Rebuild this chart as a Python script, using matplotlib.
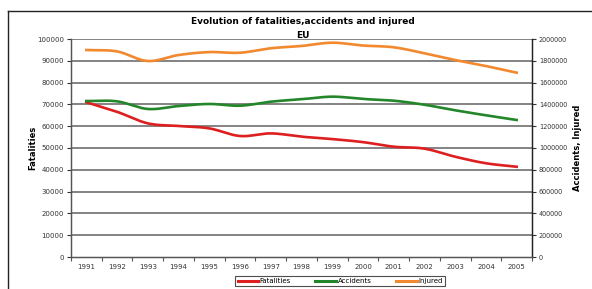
import numpy as np
import matplotlib.pyplot as plt
from matplotlib.lines import Line2D
from matplotlib.ticker import FuncFormatter

years = [str(y) for y in range(1991, 2006)]
fatalities = [71000, 66600, 61300, 60100, 59000, 55500, 56700, 55200, 54100, 52700,
              50600, 49700, 46000, 43000, 41400]
accidents = [1431000, 1428000, 1358000, 1385000, 1404000, 1388000, 1425000, 1447000,
             1471000, 1450000, 1434000, 1397000, 1346000, 1300000, 1257000]
injured = [1899000, 1886000, 1798000, 1853000, 1880000, 1874000, 1915000, 1936000,
           1966000, 1940000, 1924000, 1869000, 1807000, 1752000, 1691000]

left_ticks = list(range(0, 100001, 10000))
right_ticks = list(range(0, 2000001, 200000))


def smooth(y, n=20):
    # Catmull-Rom curve through the points, like Excel's smoothed line
    y = np.asarray(y, dtype=float)
    x = np.arange(len(y), dtype=float)
    px = np.concatenate([[2 * x[0] - x[1]], x, [2 * x[-1] - x[-2]]])
    py = np.concatenate([[2 * y[0] - y[1]], y, [2 * y[-1] - y[-2]]])
    xs, ys = [], []
    t = np.linspace(0, 1, n, endpoint=False)
    for i in range(1, len(px) - 2):
        for p, out in ((px, xs), (py, ys)):
            p0, p1, p2, p3 = p[i - 1], p[i], p[i + 1], p[i + 2]
            out.extend(0.5 * (2 * p1 + (-p0 + p2) * t + (2 * p0 - 5 * p1 + 4 * p2 - p3) * t ** 2
                              + (-p0 + 3 * p1 - 3 * p2 + p3) * t ** 3))
    xs.append(x[-1])
    ys.append(y[-1])
    return np.array(xs), np.array(ys)


fig = plt.figure(figsize=(5.92, 2.89), dpi=100)
ax = fig.add_axes([71 / 592, 32 / 289, 461 / 592, 218 / 289])
ax2 = ax.twinx()

red = '#dd1f1f'
green = '#23862a'
orange = '#f2892e'

for v in left_ticks[1:]:
    ax.axhline(v, color='#7a7a7a', lw=1.3, zorder=1)

xs, ys = smooth(fatalities)
ax.plot(xs, ys, color=red, lw=1.9, zorder=3)
xs, ys = smooth(accidents)
ax2.plot(xs, ys, color=green, lw=1.9, zorder=3)
xs, ys = smooth(injured)
ax2.plot(xs, ys, color=orange, lw=1.9, zorder=3)

plain = FuncFormatter(lambda v, p: f'{v:.0f}')
ax.set_xlim(-0.5, len(years) - 0.5)
ax.set_ylim(0, 100000)
ax2.set_ylim(0, 2000000)
ax.set_yticks(left_ticks)
ax2.set_yticks(right_ticks)
ax.yaxis.set_major_formatter(plain)
ax2.yaxis.set_major_formatter(plain)
ax.set_xticks(range(len(years)))
ax.set_xticklabels(years)
ax.set_xticks(np.arange(-0.5, len(years), 1), minor=True)
ax.tick_params(axis='x', which='major', length=0, labelsize=5, colors='#333333', pad=5)
ax.tick_params(axis='x', which='minor', length=3, color='#555555', width=0.8)
ax.tick_params(axis='y', length=3, labelsize=5, colors='#333333', width=0.8, pad=2)
ax2.tick_params(axis='y', length=3, labelsize=4.7, colors='#333333', width=0.8, pad=2)

for a in (ax, ax2):
    a.spines['top'].set_visible(False)
    a.spines['left'].set_color('#555555')
    a.spines['right'].set_color('#222222')
    a.spines['bottom'].set_color('#555555')
    for s in a.spines.values():
        s.set_linewidth(0.9)

fig.text(33 / 592, 1 - 148 / 289, 'Fatalities', rotation=90, ha='center', va='center',
         fontsize=6, fontweight='bold')
fig.text(577 / 592, 1 - 148 / 289, 'Accidents, Injured', rotation=90, ha='center',
         va='center', fontsize=6, fontweight='bold')

fig.text(303 / 592, 1 - 22 / 289, 'Evolution of fatalities,accidents and injured',
         ha='center', va='center', fontsize=6.5, fontweight='bold')
fig.text(303 / 592, 1 - 35 / 289, 'EU', ha='center', va='center', fontsize=6.5,
         fontweight='bold')

handles = [Line2D([], [], color=red, lw=2.2), Line2D([], [], color=green, lw=2.2),
           Line2D([], [], color=orange, lw=2.2)]
leg = fig.legend(handles, ['Fatalities', 'Accidents', 'Injured'], loc='center',
                 bbox_to_anchor=(340 / 592, 1 - 281 / 289), ncol=3, fontsize=5,
                 frameon=True, fancybox=False, edgecolor='#222222', handlelength=3,
                 handletextpad=0.2, columnspacing=3.5, borderpad=0.35)
leg.get_frame().set_linewidth(0.8)

fig.add_artist(Line2D([7.5 / 592, 1], [1 - 11 / 289, 1 - 11 / 289], color='#222222', lw=1.0))
fig.add_artist(Line2D([7.5 / 592, 7.5 / 592], [0, 1 - 11 / 289], color='#222222', lw=1.0))

fig.savefig('out.png', dpi=100)
